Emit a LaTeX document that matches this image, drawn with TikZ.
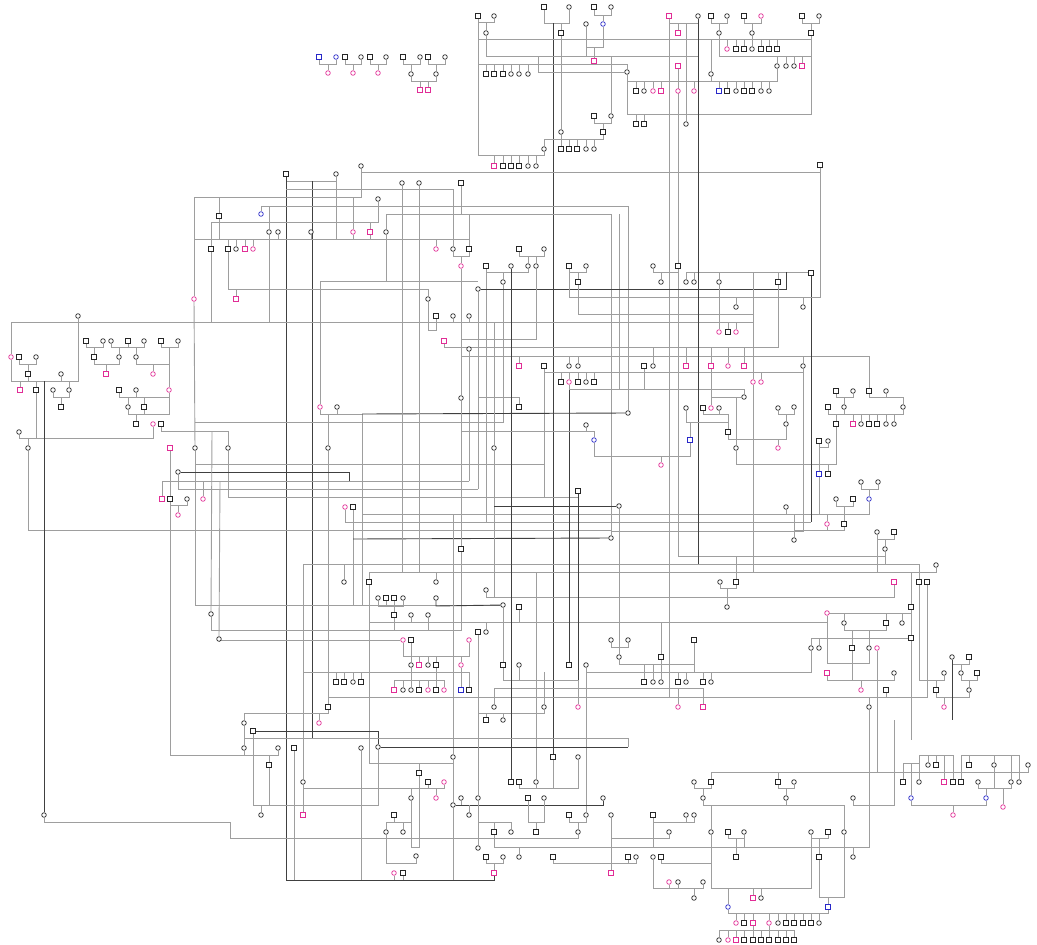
\documentclass[tikz,border=0pt]{standalone}
\usetikzlibrary{backgrounds}
\definecolor{pk}{RGB}{225,45,150}
\definecolor{bl}{RGB}{40,40,200}
\tikzset{
 nd/.style={inner sep=0pt,minimum size=4.6pt,line width=0.7pt,fill=white},
 m/.style={nd,rectangle,draw=black!85},
 f/.style={nd,circle,draw=black!85},
 mp/.style={nd,rectangle,draw=pk},
 fp/.style={nd,circle,draw=pk},
 mb/.style={nd,rectangle,draw=bl},
 fb/.style={nd,circle,draw=bl},
 ln/.style={draw=black!38,line width=0.9pt},
 dk/.style={draw=black!75,line width=0.9pt},
}
\newcommand\ND[3]{\node[#1] (n#2y#3) at (#2,#3) {};}
\newcommand\fmly[4]{\draw[ln] (n#2) -- (n#2 |- 0,#1) -- (n#3 |- 0,#1) -- (n#3);
  \foreach \k in {#4}{\draw[ln] (n\k) -- (n\k |- 0,#1);}}
\newcommand\cpl[3]{\draw[ln] (n#2) -- (n#2 |- 0,#1) -- (n#3 |- 0,#1) -- (n#3);}
\begin{document}
\begin{tikzpicture}[x=1pt,y=-1pt]
\useasboundingbox (0,0) rectangle (1037,945);
% ---------- top-left small cluster
\ND{mb}{319}{57}\ND{fb}{336}{57}\ND{fp}{328}{73}\ND{m}{345}{57}\ND{f}{361}{57}\ND{fp}{353}{73}
\ND{m}{370}{57}\ND{f}{386}{57}\ND{fp}{378}{73}\ND{m}{403}{57}\ND{f}{420}{57}\ND{f}{411}{74}
\ND{m}{428}{57}\ND{f}{445}{57}\ND{f}{436}{74}\ND{mp}{420}{90}\ND{mp}{428}{90}
% ---------- top cluster
\ND{m}{478}{16}\ND{f}{494}{16}\ND{f}{486}{33}\ND{m}{544}{7}\ND{f}{569}{7}\ND{m}{561}{33}
\ND{m}{594}{7}\ND{f}{611}{7}\ND{fb}{603}{24}\ND{f}{586}{24}\ND{mp}{594}{61}
\ND{mp}{669}{16}\ND{f}{698}{16}\ND{mp}{678}{33}\ND{mp}{678}{66}
\ND{m}{711}{16}\ND{f}{727}{16}\ND{f}{719}{33}\ND{m}{744}{16}\ND{fp}{761}{16}\ND{f}{752}{33}
\ND{m}{802}{16}\ND{f}{819}{16}\ND{m}{811}{33}
\ND{fp}{727}{49}\ND{m}{736}{49}\ND{m}{744}{49}\ND{f}{752}{49}\ND{m}{761}{49}\ND{m}{769}{49}\ND{m}{777}{49}
\ND{f}{777}{66}\ND{f}{786}{66}\ND{f}{794}{66}\ND{mp}{802}{66}
\ND{m}{486}{74}\ND{m}{494}{74}\ND{m}{503}{74}\ND{f}{511}{74}\ND{f}{519}{74}\ND{f}{528}{74}\ND{f}{627}{72}\ND{f}{711}{74}
\ND{m}{636}{91}\ND{f}{644}{91}\ND{fp}{653}{91}\ND{mp}{661}{91}\ND{fp}{678}{91}\ND{fp}{694}{91}
\ND{mb}{719}{91}\ND{m}{727}{91}\ND{f}{736}{91}\ND{m}{744}{91}\ND{m}{752}{91}\ND{f}{761}{91}\ND{f}{769}{91}
\ND{m}{636}{124}\ND{m}{644}{124}\ND{f}{686}{124}
\ND{m}{594}{116}\ND{f}{611}{116}\ND{m}{603}{132}\ND{f}{561}{132}\ND{f}{544}{149}
\ND{m}{561}{149}\ND{m}{569}{149}\ND{m}{577}{149}\ND{f}{586}{149}\ND{f}{594}{149}
\ND{mp}{494}{166}\ND{m}{503}{166}\ND{m}{511}{166}\ND{m}{519}{166}\ND{f}{528}{166}\ND{f}{536}{166}
% ---------- upper middle-left
\ND{f}{361}{166}\ND{m}{820}{165}\ND{m}{286}{174}\ND{f}{336}{174}\ND{f}{402}{183}\ND{f}{419}{183}
\ND{m}{461}{183}\ND{f}{378}{199}\ND{fb}{261}{214}\ND{m}{219}{216}\ND{f}{269}{232}\ND{f}{278}{232}
\ND{f}{311}{232}\ND{fp}{353}{232}\ND{mp}{370}{232}\ND{f}{386}{232}\ND{m}{211}{249}\ND{m}{228}{249}
\ND{f}{236}{249}\ND{mp}{245}{249}\ND{fp}{253}{249}\ND{fp}{436}{249}\ND{f}{453}{249}\ND{m}{469}{249}
\ND{fp}{461}{266}\ND{fp}{194}{299}\ND{mp}{236}{299}\ND{f}{428}{299}\ND{f}{478}{289}\ND{m}{436}{316}
\ND{f}{453}{316}\ND{f}{469}{316}\ND{mp}{444}{341}\ND{f}{469}{349}
% ---------- center upper
\ND{m}{519}{249}\ND{f}{544}{249}\ND{m}{486}{266}\ND{f}{511}{266}\ND{f}{528}{266}\ND{f}{536}{266}
\ND{m}{569}{266}\ND{f}{586}{266}\ND{f}{653}{266}\ND{m}{678}{266}\ND{m}{811}{273}\ND{f}{503}{282}
\ND{m}{578}{282}\ND{f}{661}{282}\ND{f}{686}{282}\ND{f}{694}{282}\ND{f}{719}{282}\ND{m}{778}{282}
\ND{f}{736}{307}\ND{f}{803}{307}\ND{fp}{719}{332}\ND{m}{728}{332}\ND{fp}{736}{332}
\ND{mp}{519}{366}\ND{m}{544}{366}\ND{f}{569}{366}\ND{f}{578}{366}\ND{m}{644}{366}\ND{f}{653}{366}
\ND{mp}{686}{366}\ND{mp}{711}{366}\ND{fp}{728}{366}\ND{mp}{744}{366}\ND{f}{803}{366}
\ND{m}{561}{382}\ND{fp}{569}{382}\ND{m}{578}{382}\ND{f}{586}{382}\ND{m}{594}{382}\ND{fp}{753}{382}\ND{fp}{761}{382}
\ND{f}{744}{397}
% ---------- center lower
\ND{f}{461}{398}\ND{m}{519}{407}\ND{f}{494}{448}\ND{f}{586}{425}\ND{fb}{594}{440}\ND{f}{628}{413}
\ND{f}{686}{408}\ND{m}{703}{408}\ND{fp}{711}{408}\ND{f}{719}{408}\ND{m}{728}{432}\ND{f}{778}{408}\ND{fp}{778}{448}
\ND{mb}{690}{440}\ND{fp}{661}{465}\ND{m}{578}{491}\ND{f}{611}{538}\ND{f}{736}{448}\ND{f}{619}{506}
% ---------- left
\ND{f}{78}{316}\ND{fp}{11}{357}\ND{m}{19}{357}\ND{f}{36}{357}\ND{m}{28}{374}\ND{f}{61}{374}
\ND{mp}{20}{390}\ND{m}{36}{390}\ND{f}{69}{390}\ND{f}{53}{390}\ND{m}{61}{407}
\ND{m}{86}{341}\ND{f}{103}{341}\ND{f}{111}{341}\ND{m}{128}{341}\ND{f}{144}{341}\ND{m}{161}{341}\ND{f}{178}{341}
\ND{m}{94}{357}\ND{f}{119}{357}\ND{f}{136}{357}\ND{mp}{106}{374}\ND{fp}{153}{374}
\ND{m}{119}{390}\ND{f}{136}{390}\ND{fp}{169}{390}\ND{f}{128}{407}\ND{m}{144}{407}
\ND{m}{136}{424}\ND{fp}{153}{424}\ND{m}{161}{424}\ND{f}{19}{432}\ND{f}{28}{448}
\ND{mp}{170}{448}\ND{f}{195}{448}\ND{f}{228}{448}\ND{f}{328}{448}\ND{fp}{320}{407}\ND{f}{337}{407}
\ND{f}{178}{472}\ND{mp}{162}{499}\ND{m}{170}{499}\ND{f}{187}{499}\ND{fp}{203}{499}\ND{fp}{178}{515}
\ND{fp}{345}{507}\ND{m}{353}{507}\ND{f}{44}{815}\ND{f}{211}{614}\ND{f}{219}{639}
% ---------- middle
\ND{m}{461}{549}\ND{f}{344}{582}\ND{m}{369}{582}\ND{f}{436}{582}\ND{f}{378}{598}\ND{m}{386}{598}
\ND{m}{394}{598}\ND{f}{403}{598}\ND{f}{436}{598}\ND{f}{486}{590}\ND{f}{503}{605}\ND{m}{519}{607}
\ND{m}{394}{615}\ND{f}{411}{615}\ND{f}{428}{615}\ND{m}{478}{632}\ND{f}{486}{632}
\ND{fp}{403}{640}\ND{m}{411}{640}\ND{fp}{469}{640}\ND{f}{611}{640}\ND{f}{628}{640}\ND{m}{694}{640}
\ND{f}{619}{657}\ND{m}{661}{657}\ND{f}{411}{665}\ND{mp}{419}{665}\ND{f}{428}{665}\ND{m}{436}{665}
\ND{fp}{461}{665}\ND{m}{503}{665}\ND{f}{519}{665}\ND{m}{569}{665}\ND{f}{586}{665}
\ND{m}{336}{682}\ND{m}{344}{682}\ND{f}{353}{682}\ND{m}{361}{682}
\ND{m}{644}{682}\ND{f}{653}{682}\ND{f}{661}{682}\ND{m}{678}{682}\ND{f}{686}{682}\ND{m}{703}{682}\ND{f}{711}{682}
\ND{mp}{394}{690}\ND{f}{403}{690}\ND{f}{411}{690}\ND{m}{419}{690}\ND{fp}{428}{690}\ND{m}{436}{690}
\ND{fp}{444}{690}\ND{mb}{461}{690}\ND{m}{469}{690}\ND{m}{328}{707}\ND{fp}{319}{723}
\ND{f}{494}{707}\ND{f}{544}{707}\ND{fp}{578}{707}\ND{fp}{678}{707}\ND{mp}{703}{707}\ND{m}{486}{720}\ND{f}{503}{720}
% ---------- right middle
\ND{fp}{827}{524}\ND{m}{844}{524}\ND{f}{794}{540}\ND{f}{877}{532}\ND{m}{894}{532}\ND{f}{885}{549}
\ND{f}{936}{565}\ND{f}{720}{582}\ND{m}{736}{582}\ND{mp}{894}{582}\ND{m}{919}{582}\ND{m}{927}{582}
\ND{f}{727}{607}\ND{m}{911}{607}\ND{f}{902}{623}\ND{fp}{827}{613}\ND{f}{844}{623}\ND{m}{886}{623}
\ND{m}{911}{638}\ND{f}{811}{648}\ND{f}{819}{648}\ND{m}{852}{648}\ND{f}{869}{648}\ND{fp}{877}{648}
\ND{f}{952}{657}\ND{m}{969}{657}\ND{mp}{827}{673}\ND{f}{894}{673}\ND{f}{944}{673}\ND{f}{961}{673}
\ND{m}{977}{673}\ND{fp}{861}{690}\ND{m}{886}{690}\ND{m}{936}{690}\ND{f}{969}{690}\ND{fp}{944}{707}\ND{f}{869}{707}
\ND{m}{869}{391}\ND{f}{886}{391}\ND{m}{836}{391}\ND{f}{853}{391}\ND{f}{844}{407}\ND{m}{828}{407}
\ND{f}{903}{407}\ND{f}{794}{407}\ND{f}{786}{424}\ND{m}{836}{424}\ND{mp}{853}{424}\ND{f}{861}{424}
\ND{m}{869}{424}\ND{m}{877}{424}\ND{f}{886}{424}\ND{f}{894}{424}\ND{m}{819}{441}\ND{f}{828}{441}
\ND{mb}{819}{474}\ND{m}{828}{474}\ND{f}{861}{482}\ND{f}{878}{482}\ND{fb}{869}{499}\ND{f}{836}{499}
\ND{m}{853}{499}\ND{f}{786}{507}
% ---------- bottom middle
\ND{f}{244}{723}\ND{m}{253}{731}\ND{f}{244}{748}\ND{f}{278}{748}\ND{m}{294}{748}\ND{f}{361}{748}
\ND{f}{378}{747}\ND{m}{269}{765}\ND{f}{453}{757}\ND{m}{419}{773}\ND{fp}{444}{782}\ND{m}{428}{782}
\ND{f}{303}{782}\ND{fp}{436}{798}\ND{f}{411}{798}\ND{m}{511}{782}\ND{m}{519}{782}\ND{f}{536}{782}
\ND{m}{553}{757}\ND{f}{578}{757}\ND{f}{461}{798}\ND{f}{478}{798}\ND{m}{528}{798}\ND{f}{544}{798}
\ND{f}{603}{798}\ND{f}{453}{805}\ND{f}{694}{782}\ND{m}{711}{782}\ND{f}{703}{798}\ND{f}{261}{815}
\ND{mp}{303}{815}\ND{m}{394}{815}\ND{f}{403}{832}\ND{f}{386}{832}\ND{f}{469}{815}\ND{m}{569}{815}
\ND{f}{586}{815}\ND{f}{611}{815}\ND{m}{653}{815}\ND{f}{686}{815}\ND{f}{694}{815}\ND{f}{478}{848}
\ND{m}{494}{832}\ND{f}{511}{832}\ND{m}{536}{832}\ND{f}{578}{832}\ND{f}{669}{832}\ND{f}{711}{832}
\ND{f}{416}{856}\ND{m}{486}{857}\ND{f}{503}{857}\ND{f}{519}{857}\ND{m}{553}{857}\ND{m}{628}{857}
\ND{f}{636}{857}\ND{f}{653}{857}\ND{m}{661}{857}\ND{fp}{394}{873}\ND{m}{403}{873}\ND{mp}{494}{873}
\ND{mp}{611}{873}\ND{fp}{669}{882}\ND{f}{678}{882}\ND{f}{703}{882}\ND{f}{694}{898}
% ---------- bottom right
\ND{m}{778}{782}\ND{f}{794}{782}\ND{f}{786}{798}\ND{f}{853}{798}\ND{m}{728}{832}\ND{f}{744}{832}
\ND{f}{811}{832}\ND{m}{828}{832}\ND{f}{844}{832}\ND{m}{736}{857}\ND{m}{819}{857}\ND{f}{853}{857}
\ND{mp}{753}{898}\ND{f}{761}{898}\ND{fb}{728}{907}\ND{mb}{828}{907}
\ND{fp}{736}{923}\ND{m}{744}{923}\ND{mp}{753}{923}\ND{fp}{769}{923}\ND{f}{778}{923}\ND{m}{786}{923}
\ND{m}{794}{923}\ND{m}{803}{923}\ND{m}{811}{923}\ND{f}{819}{923}
\ND{f}{719}{940}\ND{fp}{728}{940}\ND{mp}{736}{940}\ND{m}{744}{940}\ND{m}{753}{940}\ND{m}{761}{940}
\ND{m}{769}{940}\ND{m}{778}{940}\ND{m}{786}{940}\ND{m}{794}{940}
\ND{m}{903}{782}\ND{fb}{911}{798}\ND{f}{919}{782}\ND{f}{928}{765}\ND{m}{936}{765}\ND{mp}{944}{782}
\ND{m}{953}{782}\ND{m}{961}{782}\ND{m}{969}{765}\ND{f}{978}{782}\ND{fb}{986}{798}\ND{f}{994}{765}
\ND{fp}{1003}{807}\ND{f}{1011}{782}\ND{f}{1019}{782}\ND{f}{1028}{765}\ND{fp}{953}{815}
% =================== connectors
\begin{pgfonlayer}{background}
% top-left
\fmly{64}{319y57}{336y57}{328y73}\fmly{64}{345y57}{361y57}{353y73}\fmly{64}{370y57}{386y57}{378y73}
\fmly{64}{403y57}{420y57}{411y74}\fmly{64}{428y57}{445y57}{436y74}\fmly{81}{411y74}{436y74}{420y90,428y90}
% top cluster
\fmly{22}{478y16}{494y16}{486y33}
\fmly{155}{478y16}{544y149}{494y166,503y166,511y166,519y166,528y166,536y166}
\fmly{23}{544y7}{569y7}{561y33}
\draw[dk] (n553y757) -- (553,23);
\fmly{15}{594y7}{611y7}{603y24}
\fmly{47}{586y24}{603y24}{594y61}
\fmly{56}{486y33}{698y16}{586y24,611y116}
\draw[ln] (n561y33) -- (n561y132);
\fmly{23}{669y16}{698y16}{678y33}
\draw[ln] (n686y124) -- (686,23);
\fmly{23}{711y16}{727y16}{719y33}\fmly{23}{744y16}{761y16}{752y33}\fmly{23}{802y16}{819y16}{811y33}
\fmly{39}{478y16}{811y33}{752y33,727y49,736y49,744y49,752y49,761y49,769y49,777y49,711y74}
\fmly{56}{719y33}{811y33}{777y66,786y66,794y66,802y66}
\fmly{64}{478y16}{627y72}{486y74,494y74,503y74,511y74,519y74,528y74}
\draw[ln] (n627y72) -- (538,72) -- (538,56);
\fmly{81}{627y72}{777y66}{711y74,636y91,644y91,653y91,661y91,678y91,694y91,719y91,727y91,736y91,744y91,752y91,761y91,769y91}
\fmly{114}{627y72}{811y33}{636y124,644y124}
\fmly{123}{594y116}{611y116}{603y132}
\fmly{139}{544y149}{603y132}{561y132,561y149,569y149,577y149,586y149,594y149}
\cpl{172}{361y166}{820y165}
% upper middle-left
\cpl{181}{286y174}{336y174}
\draw[dk] (312,181) -- (312,738);
\draw[dk] (n286y174) -- (286,880) -| (n494y873);
\draw[ln] (286,189) -| (n453y249);
\draw[ln] (n194y299) -- (194,197) -| (n361y166);
\draw[ln] (n219y216) -- (219,197); \draw[ln] (n219y216) -- (219,239);
\draw[ln] (n261y214) -- (261,206) -| (n628y413);
\draw[ln] (n386y232) -- (386,214) -| (n611y538);
\draw[ln] (n211y249) -- (211,222) -| (n378y199);
\draw[ln] (n211y249) -- (211,322);
\fmly{239}{228y249}{469y249}{236y249,245y249,253y249,269y232,278y232,311y232,353y232,370y232,436y249}
\draw[ln] (194,239) -- (228,239);
\draw[ln] (n269y232) -- (269,206); \draw[ln] (n269y232) -- (269,322);
\draw[ln] (n353y232) -- (353,197); \draw[ln] (n370y232) -- (370,222);
\draw[ln] (n320y407) -- (320,281) -| (n386y232);
\draw[ln] (386,281) -- (478,281);
\draw[ln] (n461y183) -- (461,214) -| (n469y249);
\fmly{256}{453y249}{469y249}{461y266}
\fmly{289}{228y249}{428y299}{236y299}
\draw[ln] (n11y357) -- (11,322) -| (n753y382);
\foreach \k in {436y316,453y316,469y316}{\draw[ln] (n\k) -- (n\k |- 0,322);}
\draw[ln] (n478y289) -- (478,489);
\draw[dk] (n402y183) -- (402,572); \draw[dk] (n419y183) -- (419,572);
\draw[ln] (n336y174) -- (336,239);
\draw[ln] (n444y341) -- (444,347) -- (461,347);
\draw[ln] (n469y349) -- (469,481);
\draw[ln] (n428y299) -- (428,330) -- (436,330) -- (n436y316);
% left
\fmly{381}{11y357}{78y316}{20y390,36y390,61y374,69y390,28y374}
\fmly{364}{19y357}{36y357}{28y374}
\fmly{397}{53y390}{69y390}{61y407}
\fmly{347}{86y341}{103y341}{94y357}
\fmly{347}{111y341}{144y341}{128y341,119y357,136y357}
\cpl{347}{161y341}{178y341}\draw[ln] (169,347) -- (n169y390);
\fmly{364}{94y357}{119y357}{106y374}
\fmly{364}{136y357}{169y390}{153y374}
\fmly{397}{119y390}{169y390}{136y390,128y407,144y407}
\fmly{414}{128y407}{169y390}{144y407,136y424}
\fmly{438}{19y432}{153y424}{28y448}
\draw[ln] (n36y390) -- (36,438);
\draw[ln] (n161y424) -- (161,431) -| (n228y448);
\draw[ln] (n28y448) -- (28,530) -| (n611y538);
\draw[dk] (44,381) -- (n44y815);
\draw[ln] (n44y815) -- (44,822) -- (230,822) -- (230,838) -| (n578y832);
\fmly{414}{320y407}{337y407}{328y448}
\draw[ln] (n328y448) -- (328,697);
\fmly{697}{328y707}{927y582}{669y16,886y690}
\draw[ln] (n194y299) -- (n195y448);
\draw[ln] (n195y448) |- (n503y605);
\draw[ln] (n503y282) -- (503,422) -- (195,422);
\draw[ln] (478,397) -| (n519y407);
\draw[ln] (n228y448) -- (228,497) -- (578,497);
\draw[ln] (195,464) -- (544,464);
\draw[ln] (n544y366) -- (544,497);
\draw[dk] (n178y472) -- (349,472) -- (349,481);
\draw[ln] (n162y499) |- (469,481);
\draw[ln] (n203y499) -- (203,481);
\draw[ln] (n178y472) -- (178,489) -- (478,489);
\fmly{505}{170y499}{187y499}{178y515}
\draw[ln] (n170y448) -- (170,755) -| (n278y748);
\draw[ln] (n345y507) -- (345,522) -- (811,522);
\draw[ln] (n353y507) -- (353,606);
\draw[dk] (353,539) -- (n611y538);
\draw[ln] (362,514) -- (786,514);
\draw[ln] (212,431) -- (n211y614); \draw[ln] (n211y614) -- (211,630) -| (n461y549);
\draw[ln] (220,481) -- (n219y639); \draw[ln] (n219y639) |- (n403y640);
\draw[ln] (n337y407) -- (337,414) -- (362,414) -- (362,606);
\draw[dk] (362,414) -- (n628y413);
% middle
\draw[ln] (n303y782) -- (303,564) -| (n919y582);
\draw[ln] (n344y582) -- (344,564);
\fmly{572}{369y582}{936y565}{402y183,419y183,436y582,877y532,911y607}
\fmly{763}{369y582}{453y757}{419y773}
\cpl{597}{486y590}{894y582}
\draw[ln] (494,322) -- (n494y448); \draw[ln] (n494y448) -- (494,597);
\draw[dk] (494,506) -- (n619y506);
\draw[ln] (n619y506) -- (n619y657);
\draw[ln] (619,214) -- (619,389);
\draw[dk] (n436y598) -- (436,606) -- (n503y605);
\fmly{606}{378y598}{403y598}{386y598,394y598}
\draw[ln] (n394y598) -- (n394y615);
\fmly{622}{369y582}{827y613}{411y615,486y632,519y607,661y657}
\draw[ln] (n394y615) -- (394,630); \draw[ln] (n428y615) -- (428,630);
\fmly{656}{403y640}{469y640}{411y640,411y665,419y665,428y665,436y665,461y665}
\fmly{680}{394y690}{444y690}{403y690,411y690,419y690,428y690,436y690,411y665,436y665}
\draw[ln] (n461y665) -- (n461y690);
\fmly{672}{336y682}{469y690}{344y682,353y682,361y682}
\draw[ln] (303,672) -- (336,672);
\fmly{713}{478y632}{544y707}{486y720,503y720}
\fmly{680}{503y665}{578y707}{519y665}
\fmly{688}{494y707}{703y707}{678y707}
\fmly{647}{611y640}{628y640}{619y657}
\fmly{664}{619y657}{694y640}{661y657,644y682,653y682,661y682}
\fmly{672}{586y665}{811y648}{678y682,686y682,703y682,711y682,694y640}
\draw[dk] (n569y665) -- (n569y382);
\draw[ln] (n586y665) -- (n586y815);
\draw[ln] (n544y707) -- (544,672);
\draw[dk] (n578y491) -- (578,680);
\draw[ln] (n486y266) -- (486,522);
\draw[ln] (n503y605) -- (n503y665);
\draw[ln] (n461y266) -- (n461y398); \draw[ln] (n461y398) -- (n461y549);
\draw[ln] (453,514) -- (n453y757);
% right middle
\fmly{530}{794y540}{844y524}{827y524}
\draw[ln] (n794y540) -- (794,514);
\fmly{539}{877y532}{894y532}{885y549}
\draw[ln] (n885y549) -- (885,564);
\fmly{588}{720y582}{736y582}{727y607}
\draw[ln] (n736y582) -- (736,556);
\draw[ln] (n919y582) -- (919,680) -| (n944y673);
\fmly{613}{827y613}{911y607}{844y623,886y623,902y623}
\fmly{630}{844y623}{886y623}{852y648,869y648}
\fmly{638}{811y648}{911y638}{819y648}
\draw[ln] (n911y607) -- (n911y638); \draw[ln] (n911y638) -- (911,740);
\cpl{663}{827y613}{869y648}
\fmly{680}{827y673}{894y673}{861y690,852y648}
\fmly{664}{952y657}{969y657}{961y673}
\fmly{680}{961y673}{977y673}{969y690}
\fmly{697}{936y690}{969y690}{944y707}
\draw[ln] (n936y690) -- (936,680);
\draw[ln] (n877y648) -- (877,772);
\draw[dk] (n952y657) -- (952,720);
\draw[ln] (n869y707) -- (869,697);
\draw[ln] (n803y366) -- (803,356);
\draw[ln] (461,356) -- (869,356) -- (n869y391);
\fmly{397}{869y391}{903y407}{886y391}
\fmly{414}{828y407}{903y407}{836y424,853y424,861y424,869y424,877y424,886y424,894y424,844y407}
\fmly{397}{836y391}{853y391}{844y407}
\draw[ln] (n836y424) -- (836,464) -| (n736y448);
\draw[ln] (n828y474) -- (828,464);
\fmly{414}{778y408}{794y407}{786y424}
\cpl{447}{819y441}{828y441}
\draw[ln] (n819y441) -- (n819y474);
\fmly{489}{861y482}{878y482}{869y499}
\fmly{506}{836y499}{853y499}{844y524}
\fmly{514}{786y507}{869y499}{827y524,819y474}
\draw[ln] (n803y366) -- (803,531) -- (611,531);
\draw[dk] (n811y273) -- (811,522);
% center
\fmly{256}{519y249}{544y249}{528y266,536y266}
\fmly{272}{486y266}{528y266}{503y282}
\fmly{272}{569y266}{586y266}{578y282}
\fmly{272}{653y266}{678y266}{661y282}
\fmly{272}{686y282}{811y273}{694y282,719y282,778y282}
\draw[ln] (n678y266) -- (n678y66);
\draw[ln] (n678y266) -- (678,556) -| (n885y549);
\draw[dk] (n478y289) -- (786,289) -- (786,272);
\cpl{297}{569y266}{820y165}
\draw[ln] (n736y307) -- (736,297); \draw[ln] (n803y307) -- (803,297);
\draw[ln] (n578y282) -- (578,314) -- (753,314);
\draw[ln] (n719y282) -- (n719y332);
\draw[ln] (n728y332) -- (728,322); \draw[ln] (n736y332) -- (736,322);
\draw[ln] (461,347) -| (n778y282);
\foreach \k in {653y366,686y366,711y366,728y366,744y366}{\draw[ln] (n\k) -- (n\k |- 0,347);}
\foreach \k in {519y366,569y366,578y366}{\draw[ln] (n\k) -- (n\k |- 0,356);}
\draw[ln] (n536y266) -- (536,339) -- (461,339);
\fmly{372}{544y366}{803y366}{561y382,569y382,578y382,586y382,594y382,753y382,761y382}
\draw[ln] (n569y382) -- (569,389) -| (n744y397);
\draw[ln] (n644y366) -- (644,389);
\draw[ln] (n753y382) -- (753,272);
\draw[ln] (n753y382) -- (753,572);
\draw[dk] (n511y266) -- (n511y782);
\draw[ln] (536,572) -- (n536y782);
\draw[dk] (n698y16) -- (698,564);
\draw[ln] (461,431) -| (n594y440); \draw[ln] (n586y425) -- (586,431);
\draw[ln] (n594y440) -- (594,456) -- (690,456) -- (n690y440);
\draw[ln] (n661y465) -- (661,456);
\draw[ln] (n686y408) -- (686,422) -- (728,422); \draw[ln] (n690y440) -- (690,422);
\fmly{414}{703y408}{728y432}{719y408}
\draw[ln] (n711y366) -- (n711y408);
\draw[ln] (711,397) -- (n744y397);
\draw[ln] (736,397) -- (n736y448);
\draw[ln] (n728y432) -- (728,439) -| (n786y424);
\draw[ln] (n778y448) -- (778,439);
% bottom middle
\fmly{713}{244y723}{328y707}{319y723}
\draw[dk] (n253y731) -| (n378y747);
\draw[ln] (n244y723) -- (n244y748);
\draw[ln] (244,738) -- (628,738) -- (628,747);
\draw[dk] (n378y747) -- (628,747);
\fmly{755}{244y748}{278y748}{269y765}
\fmly{805}{253y731}{378y747}{261y815,269y765}
\draw[ln] (n294y748) -- (294,880);
\draw[ln] (n303y782) -- (n303y815);
\fmly{788}{303y782}{444y782}{428y782,411y798,436y798}
\draw[ln] (n361y748) -- (361,880);
\draw[ln] (n411y798) -- (411,847) -- (419,847) -- (n419y773);
\fmly{822}{386y832}{411y798}{394y815,403y832}
\draw[ln] (n386y832) -- (386,863) -| (n416y856);
\draw[ln] (n394y873) -- (394,880); \draw[ln] (n403y873) -- (403,880);
\draw[ln] (n453y757) -- (n453y805); \draw[ln] (n453y805) -- (453,880);
\draw[dk] (n453y805) -- (n603y798 |- 0,805) -- (n603y798);
\fmly{822}{478y798}{511y832}{494y832}
\draw[ln] (n461y798) -- (461,805); \draw[ln] (n469y815) -- (469,805);
\draw[ln] (478,713) -- (n478y798);
\draw[ln] (n478y848) -- (478,822);
\cpl{863}{486y857}{503y857}\draw[ln] (494,863) -- (n494y873);
\draw[ln] (n519y857) -- (519,847);
\fmly{822}{528y798}{544y798}{536y832}
\fmly{822}{569y815}{586y815}{578y832}
\fmly{788}{519y782}{578y757}{536y782,553y757}
\cpl{838}{611y815}{669y832}
\draw[ln] (n611y873) -- (611,838);
\fmly{847}{494y832}{869y707}{653y815,711y832,744y832,811y832,853y857}
\fmly{863}{553y857}{636y857}{628y857}
\cpl{863}{661y857}{711y832}
\fmly{822}{653y815}{694y815}{686y815}
\fmly{888}{653y857}{703y882}{669y882,678y882}
\draw[ln] (n694y898) -- (694,888);
\fmly{788}{694y782}{711y782}{703y798}
% bottom right
\fmly{772}{711y782}{1028y765}{778y782,903y782}
\fmly{788}{778y782}{794y782}{786y798}
\fmly{805}{703y798}{844y832}{711y832,786y798}
\draw[ln] (n853y798) -- (853,805) -- (894,805) -- (894,720);
\fmly{838}{728y832}{744y832}{736y857}
\fmly{838}{811y832}{828y832}{819y857}
\fmly{897}{819y857}{844y832}{828y907}
\fmly{888}{711y832}{811y832}{728y907,753y898,761y898}
\fmly{913}{728y907}{828y907}{736y923,744y923,753y923,769y923,778y923,786y923,794y923,803y923,811y923,819y923}
\fmly{930}{719y940}{794y940}{728y940,736y940,744y940,753y940,761y940,769y940,778y940,786y940,753y923,769y923}
\fmly{763}{903y782}{919y782}{911y798}
\fmly{755}{919y782}{953y782}{928y765,936y765,944y782}
\fmly{755}{961y782}{1019y782}{969y765,994y765,1011y782}
\fmly{788}{978y782}{1011y782}{986y798,1003y807,994y765}
\fmly{805}{911y798}{986y798}{953y815}
\end{pgfonlayer}
\end{tikzpicture}
\end{document}
